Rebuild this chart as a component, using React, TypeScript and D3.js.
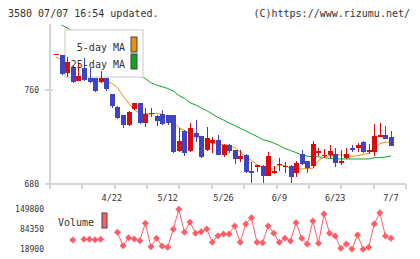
import * as d3 from "d3";

// ---- data ----
const opens = [
  790.5, 790, 774.8, 780, 768, 779, 770, 770, 767, 770,
  756.6, 745.7, 738.6, 730, 743.7, 748.6, 732, 739.8, 738, 739.2,
  738.6, 738.6, 707.8, 724.9, 707.8, 723.5, 720.6, 708.7, 715, 717.2,
  704.4, 713, 708.7, 701, 704.4, 690.7, 694.4, 695, 686.4, 689.2,
  696.2, 694.8, 695, 688.7, 705, 699.3, 695.2, 705.8, 704.2, 704.4,
  705, 697.3, 701.6, 710.6, 710.1, 715.3, 707.2, 707.2, 719.8, 721.5,
  719.8,
];
const highs = [
  790.5, 790, 788.5, 781, 782, 787.6, 779, 770, 776.3, 770.5,
  757, 746, 739, 742, 749, 749, 744.9, 744.3, 739, 742.9,
  739, 739, 727.7, 726, 732, 734.3, 721, 728.6, 720, 721.5,
  714, 714, 709, 708.7, 705, 698.7, 695.8, 695.5, 707.2, 695,
  702.1, 698.7, 695.5, 699.3, 708.7, 699.5, 716.4, 710.1, 709.5, 713,
  710.1, 708.7, 710.1, 713, 714.9, 716, 713.5, 730.9, 731.5, 729.2,
  725.2,
];
const lows = [
  790.5, 773, 771.4, 766, 767.5, 767.7, 766, 758, 766, 759,
  745, 735, 727.2, 729, 743, 731, 728.6, 737.2, 729.2, 730,
  730, 706, 707.2, 703.5, 707, 715.8, 702, 708, 705.8, 704,
  703, 706, 696.7, 698.7, 689, 680.2, 690.1, 680.7, 686, 688.1,
  690.7, 689.2, 680.7, 685.8, 696, 688.7, 693, 703.8, 701.6, 701.6,
  694.4, 695.8, 700.7, 706.7, 706.7, 706, 705, 703.8, 719.8, 718,
  712,
];
const closes = [
  790.5, 773.7, 784.2, 767, 772.2, 768.6, 767, 759.4, 770, 760.6,
  746.6, 736.3, 730, 741.4, 748.6, 732, 739.5, 740.2, 733.5, 730.7,
  731.5, 707.2, 716.4, 705.8, 727.7, 720, 702.9, 719.2, 717.2, 704.4,
  713, 708.1, 701, 703.5, 690.1, 689.2, 695.8, 686.4, 703.5, 690.7,
  696.6, 695.2, 685.8, 697.3, 696.4, 693, 713.5, 707.8, 704.6, 707.8,
  697.3, 699.3, 705, 708.7, 713, 707.2, 708.7, 720.6, 721.5, 718.1,
  712.1,
];
const ma5 = [
  788, 786, 784, 781, 777.5, 775, 771.5, 767.5, 767, 767.7,
  765.7, 762.1, 754.9, 748.9, 742.9, 740.3, 739.5, 739.5, 740.1, 739.2,
  736.5, 732.6, 727.9, 725.3, 722.4, 719.4, 718.3, 715.9, 714.4, 713.8,
  713.2, 712.3, 710.8, 707, 703.1, 699.7, 696.3, 693.3, 692.4, 692.4,
  696, 695.2, 692.8, 693, 692.4, 693, 693, 699.7, 702.7, 703.8,
  704.4, 704.4, 704, 703.1, 704, 704.8, 706.1, 709.5, 714.2, 715.3,
  715.3,
];
const ma25 = [
  null, 815.6, 813, 810.5, 807.9, 804.5, 801.1, 797.6, 794.2, 790.8,
  787.4, 784, 780.5, 777.1, 774.5, 772, 769.8, 766.2, 764.3, 762.8,
  761.3, 759.1, 755.3, 752.9, 749.1, 747.2, 744.8, 742.3, 739.5, 736.5,
  734.3, 731.8, 729.6, 727.2, 724.9, 722.6, 720.2, 717.6, 716.4, 714.6,
  712.5, 710, 708.2, 706.5, 704.4, 703.4, 702.9, 702.9, 702.2, 701.4,
  701.2, 701, 701, 701, 701, 701, 701, 702.1, 702.2, 702.7,
  703.5,
];
const volumes = [
  null, null, null, 48400, null, 50600, 50600, 49400, 50600, null,
  null, 73500, 29700, 55900, 51600, 46100, 103000, 26400, 53900, 28700,
  24400, 83400, 148700, 73500, 106200, 70300, 75500, 84350, 40800, 62400,
  68000, 68000, 94200, 40800, 100700, 121300, 40800, 39500, 94200, 70300,
  40800, 53900, 45100, 105000, 53900, 35300, 110500, 37500, 133400, 70300,
  61400, 21200, 35300, 18900, 64700, 17800, 24400, 100700, 137700, 61400,
  53900,
];
const dateLabels = ["4/22", "5/12", "5/26", "6/9", "6/23", "7/7"];
const dateLabelIndex = [10, 20, 30, 40, 50, 60];
const priceTicks = [760, 680];
const volumeTicks = [149800, 84350, 18900];

const WIDTH = 420;
const HEIGHT = 259;
const FONT = "'DejaVu Sans Mono', monospace";
const RED = "#dc0a0a";
const BLUE = "#3f45c2";
const ORANGE = "#f08c10";
const GREEN = "#12a320";
const VOL = "#ff5e68";
const AXIS = "#d6d6d6";

const App = () => {
  // scales
  const x = d3.scaleLinear().domain([0, 60]).range([56, 391]);
  const y = d3.scaleLinear().domain([680, 760]).range([183.5, 90]);
  const yVol = d3.scaleLinear().domain([18900, 149800]).range([249, 209]);

  const plotLeft = 50;
  const plotRight = 406;
  const plotTop = 24;
  const plotBottom = 183.5;
  const gridTicks = d3.range(12).map((k) => plotLeft + (k * (plotRight - plotLeft)) / 11);

  const maLine = d3
    .line<number | null>()
    .defined((d) => d != null)
    .x((_, i) => x(i))
    .y((d) => y(d as number));

  const volLine = d3
    .line<number | null>()
    .defined((d) => d != null)
    .x((_, i) => x(i))
    .y((d) => yVol(d as number));

  const diamond = (cx: number, cy: number, r: number) =>
    `M${cx},${cy - r}L${cx + r},${cy}L${cx},${cy + r}L${cx - r},${cy}Z`;

  const candleW = 5;

  return (
    <svg
      width={WIDTH}
      height={HEIGHT}
      style={{ position: "fixed", left: 0, top: 0, background: "#fff" }}
      fontFamily={FONT}
    >
      <rect width={WIDTH} height={HEIGHT} fill="#fff" />

      {/* header */}
      <text x={8} y={17} fontSize={10} fill="#333">
        3580 07/07 16:54 updated.
      </text>
      <text x={410} y={17} fontSize={10} fill="#333" textAnchor="end">
        (C)https://www.rizumu.net/
      </text>

      {/* axes */}
      <g shapeRendering="crispEdges">
        <line x1={plotLeft} x2={plotLeft} y1={plotTop} y2={188} stroke={AXIS} strokeWidth={2} />
        <line x1={45} x2={plotRight} y1={plotBottom} y2={plotBottom} stroke={AXIS} strokeWidth={2} />
        <line x1={45} x2={53} y1={y(760)} y2={y(760)} stroke={AXIS} strokeWidth={2} />
        {gridTicks.map((t, k) => (
          <line key={k} x1={t} x2={t} y1={plotBottom} y2={188.5} stroke={AXIS} strokeWidth={2} />
        ))}
      </g>
      {priceTicks.map((p) => (
        <text key={p} x={39} y={y(p) + 3} fontSize={8} fill="#333" textAnchor="end">
          {p}
        </text>
      ))}

      {/* moving averages */}
      <path d={maLine(ma25) || ""} fill="none" stroke={GREEN} strokeWidth={1} />
      <path d={maLine(ma5) || ""} fill="none" stroke={ORANGE} strokeWidth={1} />

      {/* legend box hides the lines behind it */}
      <rect x={65} y={30} width={78} height={47} fill="#fff" stroke="#dadada" strokeWidth={1.5} />

      {/* candles */}
      <g shapeRendering="crispEdges">
        {closes.map((c, i) => {
          const o = opens[i];
          const up = c >= o;
          const color = up ? RED : BLUE;
          const top = y(Math.max(o, c));
          const bh = Math.max(1, Math.abs(y(o) - y(c)));
          const cx = Math.round(x(i));
          return (
            <g key={i}>
              <line x1={cx + 0.5} x2={cx + 0.5} y1={y(highs[i])} y2={y(lows[i])} stroke={color} strokeWidth={1} />
              <rect x={cx - 2} y={top} width={candleW} height={bh} fill={color} />
            </g>
          );
        })}
      </g>

      {/* legend */}
      <text x={125} y={51} fontSize={10} fill="#333" textAnchor="end">
        5-day MA
      </text>
      <text x={125} y={68} fontSize={10} fill="#333" textAnchor="end">
        25-day MA
      </text>
      <rect x={131} y={37} width={6} height={15} fill={ORANGE} stroke="#444" strokeWidth={1} />
      <rect x={131} y={54} width={6} height={15} fill={GREEN} stroke="#444" strokeWidth={1} />

      {/* date labels */}
      {dateLabels.map((d, k) => (
        <text key={d} x={x(dateLabelIndex[k])} y={201} fontSize={8.5} fill="#333" textAnchor="middle">
          {d}
        </text>
      ))}

      {/* volume */}
      {volumeTicks.map((v) => (
        <text key={v} x={44} y={yVol(v) + 3} fontSize={8} fill="#333" textAnchor="end">
          {v}
        </text>
      ))}
      <text x={94} y={226} fontSize={10} fill="#333" textAnchor="end">
        Volume
      </text>
      <rect x={102} y={213} width={5} height={15} fill={VOL} stroke="#444" strokeWidth={1} />
      <path d={volLine(volumes) || ""} fill="none" stroke={VOL} strokeWidth={1} />
      {volumes.map((v, i) =>
        v == null ? null : <path key={i} d={diamond(x(i), yVol(v), 3.5)} fill={VOL} />
      )}
    </svg>
  );
};

export default App;
